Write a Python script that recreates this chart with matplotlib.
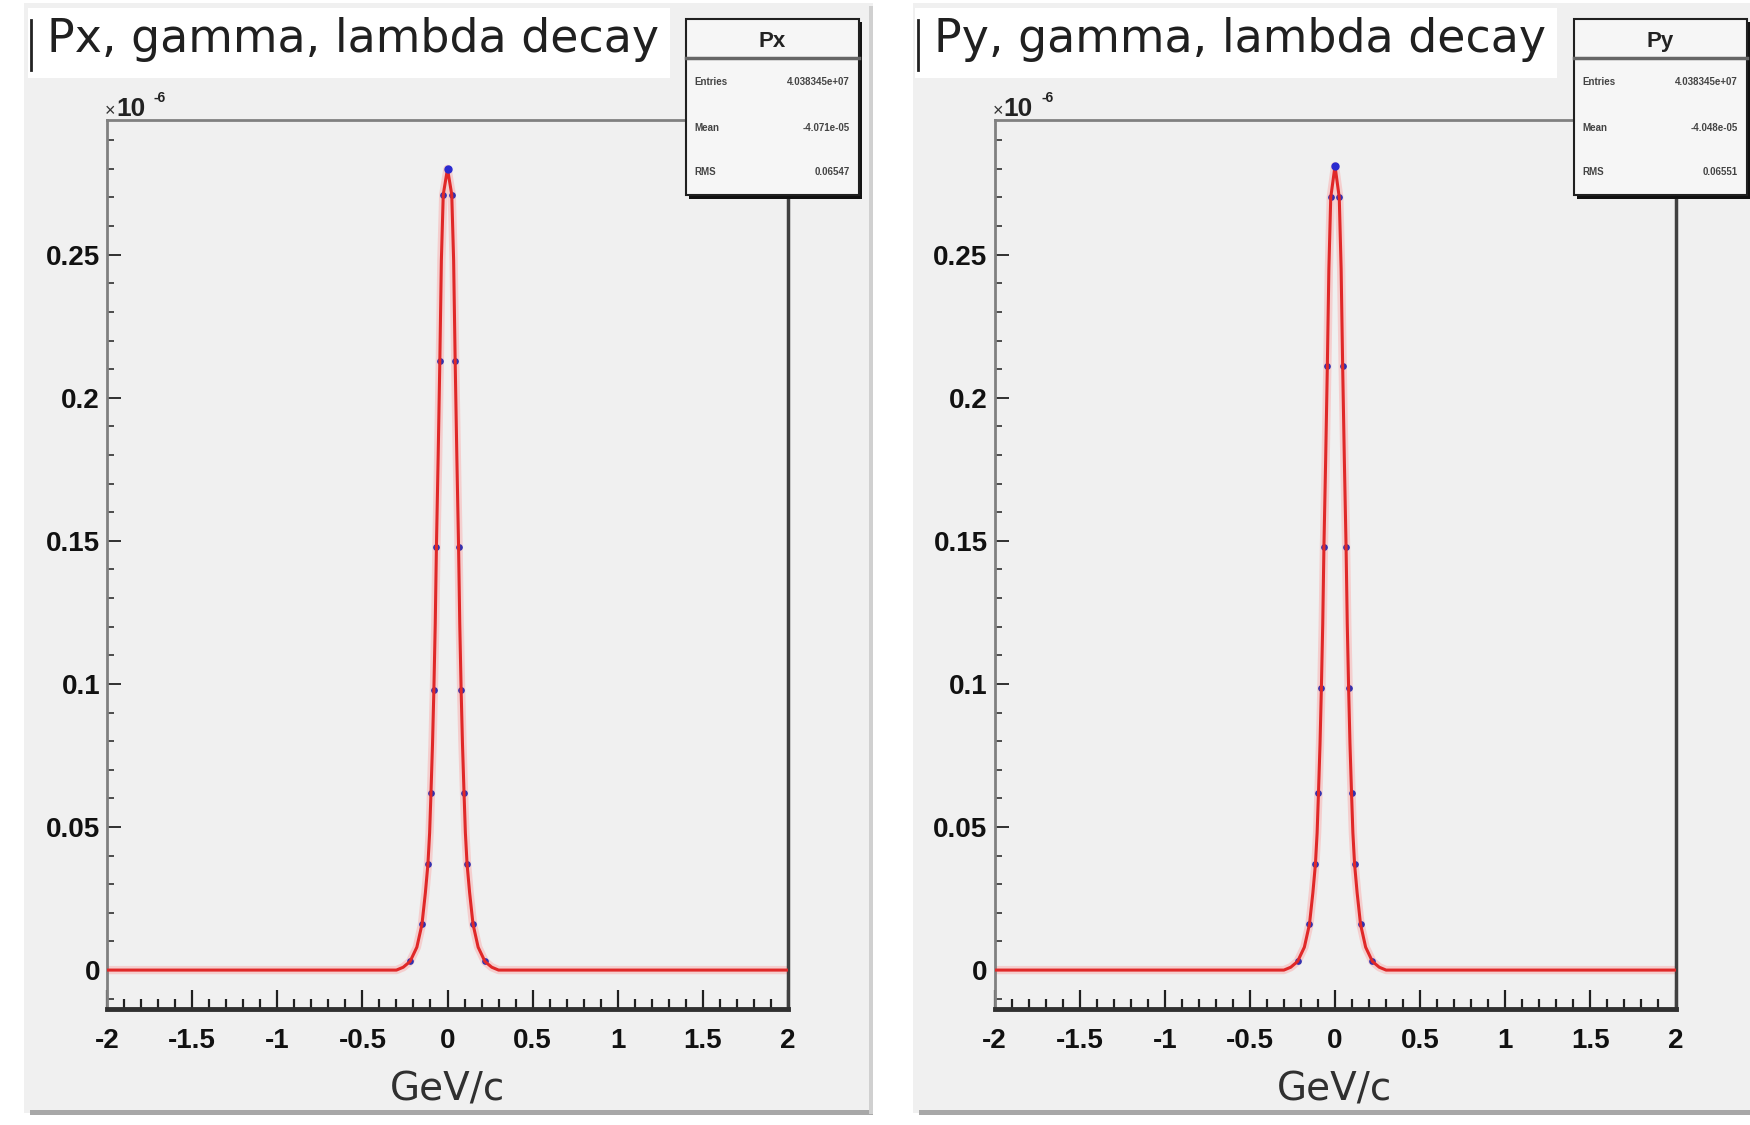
import matplotlib
matplotlib.use("Agg")
import matplotlib.pyplot as plt
from matplotlib.patches import Rectangle
from matplotlib.ticker import FixedLocator, MultipleLocator

plt.rcParams['axes.unicode_minus'] = False

# momentum distributions (GeV/c, counts x 1e-6)
px_x = [-2.0, -0.30, -0.26, -0.22, -0.18, -0.15, -0.13, -0.115, -0.105, -0.097, -0.088, -0.08,
        -0.072, -0.065, -0.055, -0.045, -0.036, -0.025, 0.0, 0.025, 0.036, 0.045, 0.055, 0.065,
        0.072, 0.08, 0.088, 0.097, 0.105, 0.115, 0.13, 0.15, 0.18, 0.22, 0.26, 0.30, 2.0]
px_y = [0.0, 0.0, 0.001, 0.003, 0.008, 0.016, 0.027, 0.037, 0.048, 0.062, 0.079, 0.098,
        0.121, 0.148, 0.179, 0.213, 0.248, 0.271, 0.280, 0.271, 0.248, 0.213, 0.179, 0.148,
        0.121, 0.098, 0.079, 0.062, 0.048, 0.037, 0.027, 0.016, 0.008, 0.003, 0.001, 0.0, 0.0]

py_x = [-2.0, -0.30, -0.26, -0.22, -0.18, -0.15, -0.13, -0.115, -0.105, -0.097, -0.088, -0.08,
        -0.072, -0.065, -0.055, -0.045, -0.036, -0.025, 0.0, 0.025, 0.036, 0.045, 0.055, 0.065,
        0.072, 0.08, 0.088, 0.097, 0.105, 0.115, 0.13, 0.15, 0.18, 0.22, 0.26, 0.30, 2.0]
py_y = [0.0, 0.0, 0.001, 0.003, 0.008, 0.016, 0.027, 0.037, 0.048, 0.062, 0.079, 0.0985,
        0.121, 0.148, 0.178, 0.211, 0.245, 0.270, 0.281, 0.270, 0.245, 0.211, 0.178, 0.148,
        0.121, 0.0985, 0.079, 0.062, 0.048, 0.037, 0.027, 0.016, 0.008, 0.003, 0.001, 0.0, 0.0]

titles = ["Px, gamma, lambda decay", "Py, gamma, lambda decay"]
stat_names = ["Px", "Py"]
stat_entries = ["4.038345e+07", "4.038345e+07"]
stat_mean = ["-4.071e-05", "-4.048e-05"]
stat_rms = ["0.06547", "0.06551"]

x_ticks = [-2, -1.5, -1, -0.5, 0, 0.5, 1, 1.5, 2]
x_tick_labels = ["-2", "-1.5", "-1", "-0.5", "0", "0.5", "1", "1.5", "2"]
y_ticks = [0, 0.05, 0.1, 0.15, 0.2, 0.25]
y_tick_labels = ["0", "0.05", "0.1", "0.15", "0.2", "0.25"]

W, H = 1750, 1125
fig = plt.figure(figsize=(17.5, 11.25), dpi=100)
fig.patch.set_facecolor("white")

# background layer in pixel coordinates
bg = fig.add_axes([0, 0, 1, 1], zorder=0)
bg.set_xlim(0, W)
bg.set_ylim(H, 0)
bg.axis("off")

# overlay layer (titles, stats boxes)
ov = fig.add_axes([0, 0, 1, 1], zorder=5)
ov.set_xlim(0, W)
ov.set_ylim(H, 0)
ov.axis("off")
ov.patch.set_alpha(0)

canvases = [(24, 873), (913, 1760)]
offsets = [0, 887.5]
data = [(px_x, px_y), (py_x, py_y)]

for i in range(2):
    c0, c1 = canvases[i]
    dx = offsets[i]
    # ROOT canvas
    bg.add_patch(Rectangle((c0, 3), c1 - c0, 1110, facecolor="#f0f0f0", edgecolor="none"))
    bg.add_patch(Rectangle((c0 + 6, 1110), c1 - c0 - 6, 5, facecolor="#a8a8a8", edgecolor="none"))
    bg.add_patch(Rectangle((c1 - 4, 6), 4, 1108, facecolor="#d0d0d0", edgecolor="none"))

    # title pave
    t0 = 28 if i == 0 else 915
    bg.add_patch(Rectangle((t0, 8), 642, 70, facecolor="white", edgecolor="none"))
    ov.plot([t0 + 3, t0 + 3], [20, 70], color="#222222", lw=2)
    ov.text(t0 + 19, 52, titles[i], fontsize=33, family="DejaVu Sans", color="#202020",
            va="baseline", ha="left")

    # frame
    x0 = 107 + dx
    ax = fig.add_axes([x0 / W, 1 - 1009 / H, 681 / W, (1009 - 120.5) / H], zorder=1)
    ax.set_facecolor("#f0f0f0")
    ax.set_xlim(-2, 2)
    ax.set_ylim(-0.0136, 0.2969)
    xs, ys = data[i]
    ax.plot(xs, ys, color="#ff8080", lw=6, alpha=0.3, solid_joinstyle="round")
    ax.plot(xs[3:-3:2], ys[3:-3:2], "o", color="#3030b0", ms=3.8, zorder=3)
    ax.plot(xs[18], ys[18], "o", color="#2a2ad0", ms=5, zorder=5)
    ax.plot(xs, ys, color="#e02828", lw=2.2, zorder=4)

    ax.xaxis.set_major_locator(FixedLocator(x_ticks))
    ax.set_xticklabels(x_tick_labels)
    ax.xaxis.set_minor_locator(MultipleLocator(0.1))
    ax.yaxis.set_major_locator(FixedLocator(y_ticks))
    ax.set_yticklabels(y_tick_labels)
    ax.yaxis.set_minor_locator(MultipleLocator(0.01))
    ax.tick_params(axis="x", which="major", direction="in", length=14, width=1.6,
                   color="#202020", pad=14)
    ax.tick_params(axis="x", which="minor", direction="in", length=7, width=1.6,
                   color="#202020")
    ax.tick_params(axis="y", which="major", direction="in", length=10, width=1.4,
                   color="#303030", pad=5)
    ax.tick_params(axis="y", which="minor", direction="in", length=5, width=1.2,
                   color="#303030")
    for lab in ax.get_xticklabels() + ax.get_yticklabels():
        lab.set_family("Liberation Sans")
        lab.set_fontweight("bold")
        lab.set_fontsize(20)
        lab.set_color("#111111")
    ax.spines["left"].set_color("#808080")
    ax.spines["top"].set_color("#808080")
    ax.spines["left"].set_linewidth(2)
    ax.spines["top"].set_linewidth(2)
    ax.spines["right"].set_color("#404040")
    ax.spines["bottom"].set_color("#303030")
    ax.spines["right"].set_linewidth(2.5)
    ax.spines["bottom"].set_linewidth(3.5)

    # exponent label
    ov.text(105 + dx, 116, "×", fontsize=13, family="Liberation Sans", color="#333333",
            va="baseline", ha="left")
    ov.text(116 + dx, 116, "10", fontsize=19, family="Liberation Sans", fontweight="bold",
            color="#222222", va="baseline", ha="left")
    ov.text(154 + dx, 102, "-6", fontsize=10, family="Liberation Sans", fontweight="bold",
            color="#222222", va="baseline", ha="left")

    # axis title
    ov.text(447 + dx, 1100, "GeV/c", fontsize=28, family="DejaVu Sans", color="#303030",
            va="baseline", ha="center")

    # stats box
    s0 = 686 + dx if i == 0 else 1574
    ov.add_patch(Rectangle((s0 + 3, 22), 173, 177, facecolor="#111111", edgecolor="none"))
    ov.add_patch(Rectangle((s0, 19), 173, 176, facecolor="#f6f6f6", edgecolor="#202020",
                           lw=1.5))
    ov.plot([s0, s0 + 173], [58, 58], color="#666666", lw=2.5)
    ov.text(s0 + 86, 47, stat_names[i], fontsize=16, family="Liberation Sans",
            fontweight="bold", color="#222222", ha="center", va="baseline")
    rows = [("Entries", stat_entries[i], 85), ("Mean", stat_mean[i], 131),
            ("RMS", stat_rms[i], 175)]
    for name, val, yy in rows:
        ov.text(s0 + 8, yy, name, fontsize=7, family="Liberation Sans", fontweight="bold",
                color="#444444", ha="left", va="baseline")
        ov.text(s0 + 164, yy, val, fontsize=7, family="Liberation Sans", fontweight="bold",
                color="#444444", ha="right", va="baseline")

fig.savefig("out.png", dpi=100)
